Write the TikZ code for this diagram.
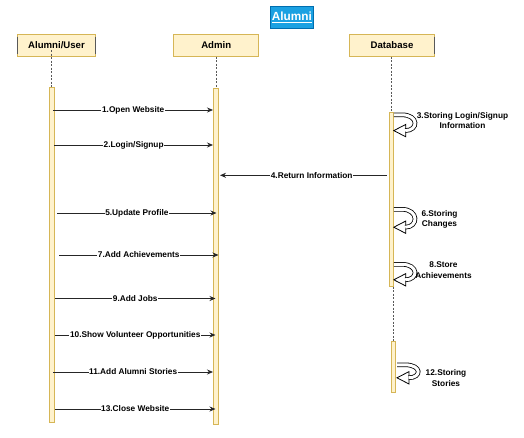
\documentclass[tikz,border=0pt]{standalone}
\usepackage{fontspec}
\setmainfont{Liberation Sans}
\usetikzlibrary{arrows.meta}
\definecolor{hdfill}{HTML}{FFF2CC}
\definecolor{hdstroke}{HTML}{D6B656}
\definecolor{titlefill}{HTML}{1BA1E2}
\definecolor{titlestroke}{HTML}{006EAF}
\newcommand{\dbloop}[3]{%
  \begin{scope}[shift={(#1,#2)}]
    \draw[line width=0.8pt, fill=white] (0,#3) -- (12,#3-6.2) -- (12,#3+6.2) -- cycle;
    \draw[line width=4.6pt, black] (0,0) -- (8,0) .. controls (25,0) and (25,#3) .. (11.4,#3);
    \draw[line width=3pt, white] (0,0) -- (8,0) .. controls (25,0) and (25,#3) .. (11.4,#3);
  \end{scope}}
\begin{document}
\begin{tikzpicture}[x=1pt, y=-1pt,
  head/.style={draw=hdstroke, fill=hdfill, line width=0.8pt, minimum height=22pt, inner sep=0pt,
    font=\bfseries\fontsize{9.6}{11}\selectfont},
  actbar/.style={draw=hdstroke, fill=hdfill, line width=0.7pt, inner sep=0pt},
  life/.style={draw=gray!70!black, dash pattern=on 2pt off 1.5pt, line width=0.8pt},
  shade/.style={draw=black!65, line width=0.9pt},
  msg/.style={draw=black!85, line width=0.8pt, -{Stealth[length=6pt,width=5pt]}},
  lbl/.style={fill=white, inner sep=0.6pt, font=\bfseries\fontsize{8.3}{10}\selectfont},
  looplbl/.style={inner sep=0pt, align=center, font=\bfseries\fontsize{8.3}{10.5}\selectfont}]
\useasboundingbox (0,0) rectangle (524,437);
\fill[white] (0,0) rectangle (524,437);

% title
\node[draw=titlestroke, fill=titlefill, line width=0.6pt, minimum width=43pt, minimum height=22pt, inner sep=0pt,
  text=white, font=\bfseries\fontsize{11.8}{13}\selectfont] (title) at (291.8,17.2) {\underline{Alumni}};

% participants
\node[head, minimum width=78pt] (user) at (56.5,45.5) {Alumni/User};
\node[head, minimum width=85pt] (admin) at (216.2,45.5) {Admin};
\node[head, minimum width=84.6pt] (db) at (392,45.5) {Database};
\draw[shade] (17.3,36.7) -- (17.3,54.3);
\draw[shade] (95.3,36.7) -- (95.3,54.3);
\draw[shade] (434.2,36.7) -- (434.2,54.3);

% lifelines
\coordinate (u0) at (51.7,50);
\coordinate (u1) at (51.7,87);
\coordinate (a0) at (216,56.5);
\coordinate (a1) at (216,88);
\coordinate (d0) at (391.7,56.5);
\coordinate (d1) at (391.7,112);
\coordinate (d2) at (393.2,286.5);
\coordinate (d3) at (393.2,341.5);
\draw[life] (u0) -- (u1);
\draw[life] (a0) -- (a1);
\draw[life] (d0) -- (d1);
\draw[life] (d2) -- (d3);

% activation bars
\node[actbar, minimum width=4.6pt, minimum height=335pt] (ubar) at (52,254.5) {};
\node[actbar, minimum width=4.8pt, minimum height=336pt] (abar) at (216.1,256) {};
\node[actbar, minimum width=4.5pt, minimum height=174.5pt] (dbar1) at (391.5,199.25) {};
\node[actbar, minimum width=4pt, minimum height=50.8pt] (dbar2) at (393.3,366.9) {};

% messages
\coordinate (m1s) at (53.3,110);   \coordinate (m1e) at (213,110);
\coordinate (m2s) at (54.3,145);   \coordinate (m2e) at (213,145);
\coordinate (m4s) at (386.7,175.3); \coordinate (m4e) at (220,175.3);
\coordinate (m5s) at (57.3,213);   \coordinate (m5e) at (216.5,213);
\coordinate (m7s) at (59,255);     \coordinate (m7e) at (218.5,255);
\coordinate (m9s) at (55,298.5);   \coordinate (m9e) at (215.5,298.5);
\coordinate (m10s) at (55,335);    \coordinate (m10e) at (215.5,335);
\coordinate (m11s) at (53.3,372);  \coordinate (m11e) at (213,372);
\coordinate (m13s) at (55,409);    \coordinate (m13e) at (215.5,409);

\draw[msg] (m1s) -- node[lbl] {1.Open Website} (m1e);
\draw[msg] (m2s) -- node[lbl] {2.Login/Signup} (m2e);
\draw[msg] (m4s) -- node[lbl, pos=0.45] {4.Return Information} (m4e);
\draw[msg] (m5s) -- node[lbl] {5.Update Profile} (m5e);
\draw[msg] (m7s) -- node[lbl] {7.Add Achievements} (m7e);
\draw[msg] (m9s) -- node[lbl] {9.Add Jobs} (m9e);
\draw[msg] (m10s) -- node[lbl] {10.Show Volunteer Opportunities} (m10e);
\draw[msg] (m11s) -- node[lbl] {11.Add Alumni Stories} (m11e);
\draw[msg] (m13s) -- node[lbl] {13.Close Website} (m13e);

% self calls on Database
\dbloop{393.8}{114.8}{15.8}
\dbloop{393.8}{209.3}{17.9}
\dbloop{393.8}{264.3}{15.5}
\dbloop{397}{364.8}{13}

\node[looplbl] (l3) at (462.5,120.5) {3.Storing Login/Signup\\Information};
\node[looplbl] (l6) at (439.5,219.2) {6.Storing\\Changes};
\node[looplbl] (l8) at (443.5,270.3) {8.Store\\Achievements};
\node[looplbl] (l12) at (446,378) {12.Storing\\Stories};
\end{tikzpicture}
\end{document}
